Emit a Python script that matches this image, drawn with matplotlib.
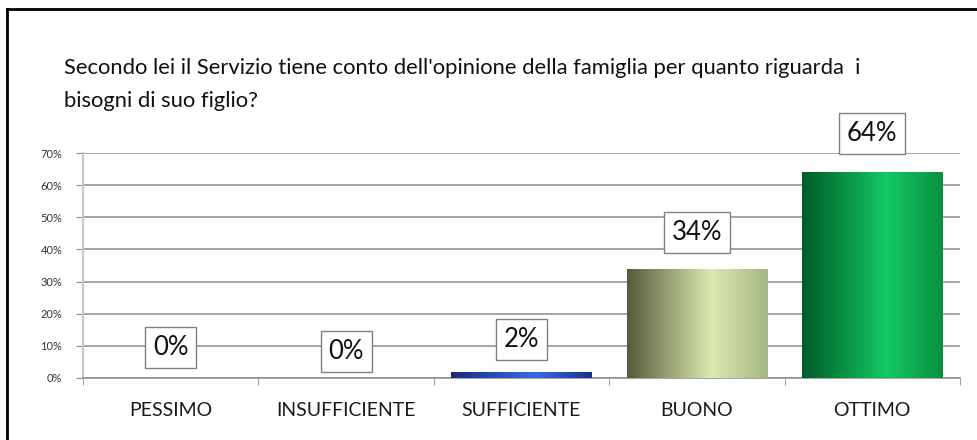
import numpy as np
import matplotlib.pyplot as plt
from matplotlib.colors import LinearSegmentedColormap
from matplotlib.lines import Line2D

plt.rcParams['font.family'] = ['Lato', 'DejaVu Sans']

categories = ['PESSIMO', 'INSUFFICIENTE', 'SUFFICIENTE', 'BUONO', 'OTTIMO']
values = [0, 0, 2, 34, 64]
labels = ['0%', '0%', '2%', '34%', '64%']
title = ("Secondo lei il Servizio tiene conto dell'opinione della famiglia per quanto riguarda  i\n"
         "bisogni di suo figlio?")

# gradient colours per bar (left edge, highlight, right edge)
grads = [
    ['#1a2a80', '#3a6ae8', '#1a3090'],
    ['#1a2a80', '#3a6ae8', '#1a3090'],
    ['#1a2a80', '#3a6ae8', '#1a3090'],
    ['#555a3a', '#dceab0', '#a6b684'],
    ['#005a28', '#12c964', '#0a9040'],
]
label_offsets = [22, 19, 23, 26, 28]

fig = plt.figure(figsize=(9.78, 4.40), dpi=100)
ax = fig.add_axes([0.0849, 0.141, 0.8967, 0.511])

x = np.arange(len(categories))
bars = ax.bar(x, values, width=0.8, color='none', zorder=3)

ax.set_xlim(-0.5, len(categories) - 0.5)
ax.set_ylim(0, 70)

for b, g in zip(bars, grads):
    if b.get_height() <= 0:
        continue
    cmap = LinearSegmentedColormap.from_list('g', [(0, g[0]), (0.6, g[1]), (1, g[2])])
    grad = np.linspace(0, 1, 256).reshape(1, -1)
    im = ax.imshow(grad, cmap=cmap, aspect='auto', zorder=3,
                   extent=[b.get_x(), b.get_x() + b.get_width(), 0, b.get_height()])
    im.set_clip_path(b)

for xi, v, lab, off in zip(x, values, labels, label_offsets):
    ax.annotate(lab, (xi, v), xytext=(0, off), textcoords='offset points',
                ha='center', va='center', fontsize=18.5, color='#111111', zorder=5,
                bbox=dict(boxstyle='square,pad=0.3', fc='white', ec='#808080', lw=1))

ax.set_yticks(np.arange(0, 71, 10))
ax.set_yticklabels([f'{t}%' for t in range(0, 71, 10)], fontsize=8, color='#333333')
ax.yaxis.grid(True, color='#8c8c8c', lw=1.1, zorder=0)
ax.tick_params(axis='y', length=5, color='#8c8c8c', pad=10)

ax.set_xticks(x)
ax.set_xticklabels(categories, fontsize=14, color='#1a1a1a')
ax.set_xticks(np.arange(-0.5, len(categories)), minor=True)
ax.tick_params(axis='x', which='major', length=0, pad=17)
ax.tick_params(axis='x', which='minor', length=5, color='#8c8c8c')

for s in ['top', 'right']:
    ax.spines[s].set_visible(False)
ax.spines['left'].set_color('#c8c8c8')
ax.spines['left'].set_linewidth(1.5)
ax.spines['bottom'].set_color('#8c8c8c')
ax.spines['bottom'].set_linewidth(1.1)

fig.text(0.0654, 0.808, title, fontsize=15.8, color='#111111', va='center', ha='left',
         linespacing=1.8)

# frame lines (left and top)
fig.add_artist(Line2D([0.0075, 0.0075], [0, 0.98], color='black', lw=2, transform=fig.transFigure))
fig.add_artist(Line2D([0.0075, 1], [0.98, 0.98], color='black', lw=2, transform=fig.transFigure))

fig.savefig('out.png', dpi=100)
